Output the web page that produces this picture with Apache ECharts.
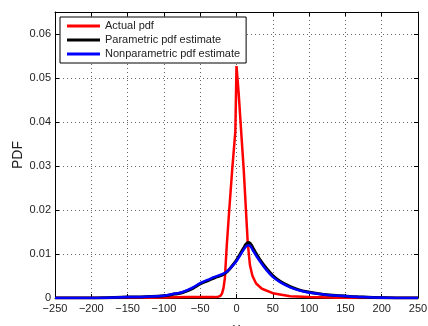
<!DOCTYPE html>
<html>
<head>
<meta charset="utf-8">
<script src="https://cdn.jsdelivr.net/npm/echarts@6/dist/echarts.min.js"></script>
<style>html,body{margin:0;padding:0;background:#fff}#c{width:428px;height:326px}</style>
</head>
<body>
<div id="c"></div>
<script>
// Actual pdf (red)
var actualX = [-250, -150, -100, -70, -45, -30, -25, -22, -20, -18, -16, -13.5, -10, -6, -1.6, 0, 3, 6.6, 10, 13, 15.5, 18.5, 22, 27, 35, 50, 74, 100, 130, 160, 250];
var actualY = [0, 0, 0.0001, 0.0002, 0.0002, 0.0002, 0.0003, 0.0005, 0.0010, 0.0022, 0.0045, 0.0117, 0.020, 0.029, 0.0378, 0.0527, 0.0465, 0.0374, 0.029, 0.020, 0.0125, 0.0075, 0.0050, 0.0033, 0.0021, 0.0011, 0.0004, 0.0002, 0.0001, 0, 0];
// Parametric / nonparametric estimates share x grid
var estX = [-250, -200, -150, -125, -100, -85, -75, -60, -50, -40, -30, -20, -15, -10, -5, 0, 5, 10, 13, 16, 19, 22, 26, 32, 40, 50, 60, 74, 85, 97, 120, 142, 165, 188, 220, 250];
var paramY = [0, 0, 0.0002, 0.0003, 0.0005, 0.0009, 0.0012, 0.0022, 0.0032, 0.0039, 0.0046, 0.0052, 0.0057, 0.0065, 0.0075, 0.0086, 0.0100, 0.0114, 0.0122, 0.0126, 0.0124, 0.0116, 0.0104, 0.0088, 0.0070, 0.0051, 0.0038, 0.0026, 0.0019, 0.0014, 0.0008, 0.0005, 0.0003, 0.0001, 0, 0];
var nonparamY = [0, 0, 0.0002, 0.0003, 0.0005, 0.0010, 0.0013, 0.0024, 0.0034, 0.0041, 0.0048, 0.0054, 0.0058, 0.0065, 0.0074, 0.0084, 0.0097, 0.0110, 0.0117, 0.0120, 0.0118, 0.0110, 0.0099, 0.0084, 0.0066, 0.0048, 0.0036, 0.0024, 0.0018, 0.0013, 0.0008, 0.0005, 0.0003, 0.0001, 0, 0];
var seriesNames = ['Actual pdf', 'Parametric pdf estimate', 'Nonparametric pdf estimate'];
var seriesColors = ['#ff0000', '#000000', '#0000ff'];
var xTicks = [-250, 250, 50];
var yTicks = [0, 0.065, 0.01];

function pairs(xs, ys) { return xs.map(function (x, i) { return [x, ys[i]]; }); }
var FONT = 'Liberation Sans';
var chart = echarts.init(document.getElementById('c'), null, {renderer: 'canvas'});
var gridLine = {show: true, lineStyle: {color: '#666', type: [1, 3], width: 1}};
var axisLineS = {show: true, onZero: false, lineStyle: {color: '#000', width: 1}};
var tickS = {show: true, inside: true, length: 4, lineStyle: {color: '#000'}};
chart.setOption({
  animation: false,
  backgroundColor: '#fff',
  grid: {left: 55, right: 10, top: 12, bottom: 28, containLabel: false, outerBoundsMode: 'none'},
  legend: {
    left: 60, top: 17, orient: 'vertical',
    backgroundColor: '#fff', borderColor: '#000', borderWidth: 1,
    padding: [3, 6, 3, 7], itemGap: 2, itemWidth: 33, itemHeight: 3,
    icon: 'rect',
    textStyle: {fontFamily: FONT, fontSize: 11, color: '#222', lineHeight: 12},
    data: seriesNames
  },
  xAxis: [{
    type: 'value', min: xTicks[0], max: xTicks[1], interval: xTicks[2],
    name: 'y', nameLocation: 'middle', nameGap: 24,
    nameTextStyle: {fontFamily: FONT, fontSize: 14, color: '#222'},
    axisLine: axisLineS, axisTick: tickS, splitLine: gridLine,
    axisLabel: {fontFamily: FONT, fontSize: 11, color: '#222', margin: 5,
      formatter: function (v) { return String(v).replace('-', '\u2212'); }}
  }, {
    type: 'value', position: 'top', min: xTicks[0], max: xTicks[1], interval: xTicks[2],
    axisLine: axisLineS, axisTick: tickS, axisLabel: {show: false}, splitLine: {show: false}
  }],
  yAxis: [{
    type: 'value', min: yTicks[0], max: yTicks[1], interval: yTicks[2],
    name: 'PDF', nameLocation: 'middle', nameGap: 30, nameRotate: 90, nameMoveOverlap: false,
    nameTextStyle: {fontFamily: FONT, fontSize: 14, color: '#222'},
    axisLine: axisLineS, axisTick: tickS, splitLine: gridLine,
    axisLabel: {fontFamily: FONT, fontSize: 11, color: '#222', margin: 4,
      formatter: function (v) {
        var k = Math.round(v * 100);
        if (Math.abs(v * 100 - k) > 1e-6) return '';
        return k === 0 ? '0' : (k / 100).toFixed(2);
      }}
  }, {
    type: 'value', position: 'right', min: yTicks[0], max: yTicks[1], interval: yTicks[2],
    axisLine: axisLineS, axisTick: tickS, axisLabel: {show: false}, splitLine: {show: false}
  }],
  series: [{
    name: seriesNames[0], type: 'line', showSymbol: false, symbol: 'none',
    data: pairs(actualX, actualY), smooth: false,
    lineStyle: {color: seriesColors[0], width: 2.5}, itemStyle: {color: seriesColors[0]}
  }, {
    name: seriesNames[1], type: 'line', showSymbol: false, symbol: 'none',
    data: pairs(estX, paramY), smooth: 0.4,
    lineStyle: {color: seriesColors[1], width: 3}, itemStyle: {color: seriesColors[1]}
  }, {
    name: seriesNames[2], type: 'line', showSymbol: false, symbol: 'none',
    data: pairs(estX, nonparamY), smooth: 0.4,
    lineStyle: {color: seriesColors[2], width: 2.5}, itemStyle: {color: seriesColors[2]}
  }]
});
</script>
</body>
</html>
